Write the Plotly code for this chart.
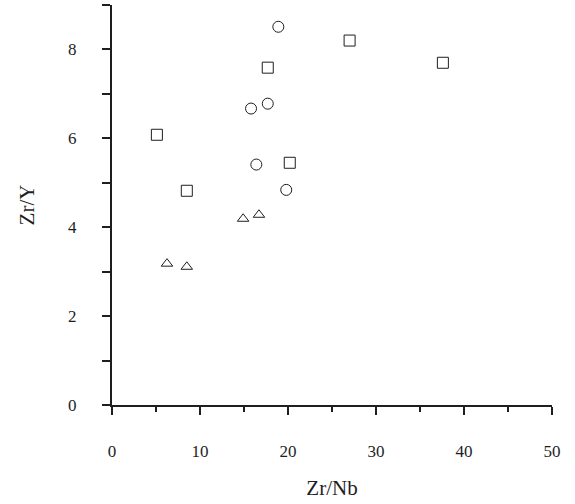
import plotly.graph_objects as go

# Zr/Nb vs Zr/Y ratios, grouped by symbol
circle_zrnb = [18.9, 15.8, 17.7, 16.4, 19.8]
circle_zry = [8.51, 6.67, 6.78, 5.41, 4.84]

square_zrnb = [5.1, 8.5, 17.7, 20.2, 27.0, 37.6]
square_zry = [6.08, 4.82, 7.59, 5.45, 8.20, 7.70]

triangle_zrnb = [14.9, 16.7, 8.5, 6.25]
triangle_zry = [4.19, 4.28, 3.11, 3.18]

x_ticks = [0, 10, 20, 30, 40, 50]
y_ticks = [0, 2, 4, 6, 8]

ink = "#1e1e1e"
serif = "Liberation Serif, Times New Roman, serif"

fig = go.Figure()
for xs, ys, sym, size in [
    (circle_zrnb, circle_zry, "circle-open", 11),
    (square_zrnb, square_zry, "square-open", 11),
    (triangle_zrnb, triangle_zry, "triangle-up-open", 10),
]:
    fig.add_trace(go.Scatter(
        x=xs, y=ys, mode="markers",
        marker=dict(symbol=sym, size=size, color=ink, line=dict(width=1, color=ink)),
        showlegend=False, cliponaxis=False,
    ))

fig.update_layout(
    width=575, height=504,
    margin=dict(l=112, r=23, t=5, b=99),
    paper_bgcolor="white", plot_bgcolor="white",
    font=dict(family=serif, color=ink),
)
fig.update_xaxes(
    range=[0, 50], tickvals=x_ticks, ticktext=[str(v) for v in x_ticks],
    showgrid=False, zeroline=False,
    showline=True, linecolor=ink, linewidth=2,
    ticks="outside", ticklen=8, tickwidth=2, tickcolor=ink,
    minor=dict(dtick=5, ticks="outside", ticklen=5, tickwidth=2, tickcolor=ink, showgrid=False),
    ticklabelstandoff=22,
    tickfont=dict(size=17, family=serif, color=ink),
    title=dict(text="Zr/Nb", font=dict(size=21, family=serif, color=ink), standoff=20),
)
fig.update_yaxes(
    range=[0, 9], tickvals=y_ticks, ticktext=[str(v) for v in y_ticks],
    showgrid=False, zeroline=False,
    showline=True, linecolor=ink, linewidth=2,
    ticks="outside", ticklen=8, tickwidth=2, tickcolor=ink,
    minor=dict(dtick=1, ticks="outside", ticklen=8, tickwidth=2, tickcolor=ink, showgrid=False),
    ticklabelstandoff=22,
    tickfont=dict(size=17, family=serif, color=ink),
    title=dict(text="Zr/Y", font=dict(size=21, family=serif, color=ink), standoff=28),
)

fig.write_html("out.html")
